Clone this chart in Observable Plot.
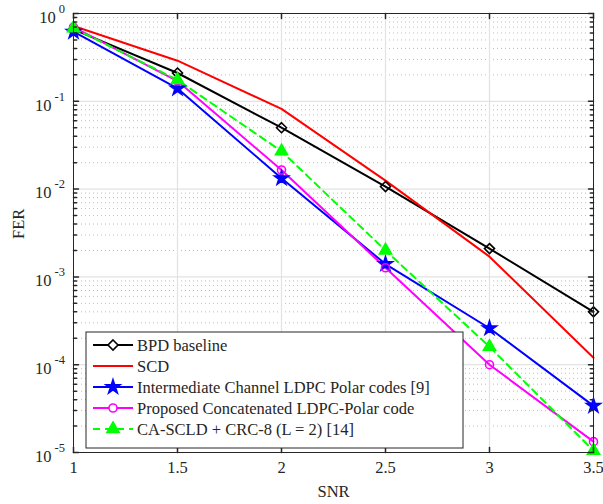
<!DOCTYPE html>
<html><head><meta charset="utf-8">
<script src="https://cdn.jsdelivr.net/npm/d3@7"></script>
<script src="https://cdn.jsdelivr.net/npm/@observablehq/plot@0.6"></script>
<style>
body{margin:0;background:#fff;}
#chart{position:relative;width:603px;height:504px;}
#chart svg, #chart svg text{font-family:'Liberation Serif','Times New Roman',Times,serif;}
</style>
</head><body><div id="chart"></div>
<script>
// ---- data ----
const snr = [1, 1.5, 2, 2.5, 3, 3.5];
const bpdBaseline = [0.66, 0.21, 0.050, 0.0107, 0.0021, 4.0e-4];
const scd = [0.72, 0.29, 0.082, 0.0125, 0.0017, 1.2e-4];
const intermediateLdpcPolar = [0.62, 0.14, 0.0133, 0.0014, 2.6e-4, 3.4e-5];
const proposedConcatenated = [0.70, 0.17, 0.0165, 1.27e-3, 1.0e-4, 1.33e-5];
const caScld = [0.68, 0.175, 0.027, 0.0020, 1.6e-4, 1.05e-5];

const seriesNames = [
  "BPD baseline",
  "SCD",
  "Intermediate Channel LDPC Polar codes [9]",
  "Proposed Concatenated LDPC-Polar code",
  "CA-SCLD + CRC-8 (L = 2) [14]"
];
const seriesValues = [bpdBaseline, scd, intermediateLdpcPolar, proposedConcatenated, caScld];
const seriesColors = ["#000000", "#ff0000", "#0000ff", "#ff00ff", "#00ff00"];
const seriesSymbols = ["diamond2", null, "star", "circle", "triangle"];
const seriesFilled = [false, false, true, false, true];
const seriesDash = [null, null, null, null, "7,5"];

const xTicks = [1, 1.5, 2, 2.5, 3, 3.5];
const yMajor = [1e-5, 1e-4, 1e-3, 1e-2, 1e-1, 1];
const minorMultipliers = [2, 3, 4, 5, 6, 7, 8, 9];
const yMinor = yMajor.slice(0, -1).flatMap(p => minorMultipliers.map(m => m * p));

const markerR = {diamond2: 4.5, star: 4.4, circle: 4, triangle: 4.5};

// ---- build table ----
const rows = [];
seriesNames.forEach((name, i) => {
  snr.forEach((s, j) => rows.push({series: name, idx: i, snr: s, fer: seriesValues[i][j]}));
});

const font = "'Liberation Serif', 'Times New Roman', Times, serif";
const fs = 16.5;
const axisColor = "#262626";
const tickShape = {draw(context, l) { context.moveTo(0, 0); context.lineTo(0, -l); }};

const lineMarks = seriesNames.map((name, i) =>
  Plot.line(rows.filter(r => r.idx === i), {
    x: "snr", y: "fer", stroke: seriesColors[i], strokeWidth: 2,
    strokeDasharray: seriesDash[i] || undefined
  })
);
const dotMarks = seriesNames.map((name, i) => seriesSymbols[i] ? Plot.dot(rows.filter(r => r.idx === i), {
    x: "snr", y: "fer", symbol: seriesSymbols[i], r: markerR[seriesSymbols[i]],
    stroke: seriesColors[i], strokeWidth: 1.6,
    fill: seriesFilled[i] ? seriesColors[i] : "none"
  }) : null).filter(Boolean);

const chart = Plot.plot({
  width: 603, height: 504,
  marginLeft: 73, marginRight: 10, marginTop: 13, marginBottom: 52,
  style: {fontFamily: font, fontSize: fs + "px", background: "#fff", overflow: "visible"},
  x: {domain: [1, 3.5]},
  y: {type: "log", domain: [1e-5, 1]},
  marks: [
    Plot.ruleY(yMinor, {stroke: "#bdbdbd", strokeDasharray: "1,3"}),
    Plot.ruleY(yMajor.slice(1, -1), {stroke: "#e2e2e2", strokeWidth: 1.2}),
    Plot.ruleX(xTicks.slice(1, -1), {stroke: "#e2e2e2", strokeWidth: 1.2}),
    ...lineMarks,
    ...dotMarks,
    Plot.frame({stroke: axisColor, strokeWidth: 1}),
    // inward ticks (MATLAB box style)
    Plot.vector(yMajor, {x: 1, y: d => d, length: 5, rotate: 90, anchor: "start", shape: tickShape, stroke: axisColor}),
    Plot.vector(yMajor, {x: 3.5, y: d => d, length: 5, rotate: -90, anchor: "start", shape: tickShape, stroke: axisColor}),
    Plot.vector(yMinor, {x: 1, y: d => d, length: 3, rotate: 90, anchor: "start", shape: tickShape, stroke: axisColor}),
    Plot.vector(yMinor, {x: 3.5, y: d => d, length: 3, rotate: -90, anchor: "start", shape: tickShape, stroke: axisColor}),
    Plot.vector(xTicks, {x: d => d, y: 1e-5, length: 5, rotate: 0, anchor: "start", shape: tickShape, stroke: axisColor}),
    Plot.vector(xTicks, {x: d => d, y: 1, length: 5, rotate: 180, anchor: "start", shape: tickShape, stroke: axisColor}),
    Plot.axisX({ticks: xTicks, tickSize: 0, tickPadding: 9, tickFormat: d => String(d), label: null, fill: "#262626"}),
    Plot.axisY({ticks: yMajor, tickSize: 0, tickPadding: 8.5, dy: 4,
      tickFormat: d => `10^${Math.round(Math.log10(d))}`, label: null, fill: "#262626"}),
    Plot.text(["SNR"], {frameAnchor: "bottom", text: d => d, dy: 44, fontSize: fs, fill: "#262626"}),
    Plot.text(["FER"], {frameAnchor: "left", text: d => d, dx: -55, dy: 6, rotate: -90, fontSize: fs, fill: "#262626"})
  ]
});

document.getElementById("chart").appendChild(chart);

// superscript exponents on y tick labels
const svg = d3.select(chart.tagName.toLowerCase() === "svg" ? chart : chart.querySelector("svg"));
svg.selectAll('g[aria-label="y-axis tick label"] text').each(function() {
  const t = d3.select(this);
  const m = t.text().match(/^10\^(-?\d+)$/);
  if (!m) return;
  t.text(null);
  t.append("tspan").text("10");
  t.append("tspan").attr("dx", "3").attr("dy", "-10").attr("font-size", "12.5px").text(m[1]);
});

// legend (inside plot area, lower left)
const lg = svg.append("g").attr("font-family", font).attr("font-size", fs).attr("text-anchor", "start");
const boxX = 86, boxY = 332, boxW = 377, boxH = 116, rowH = 21;
lg.append("rect").attr("x", boxX).attr("y", boxY).attr("width", boxW).attr("height", boxH)
  .attr("fill", "#fff").attr("stroke", axisColor).attr("stroke-width", 1);
const d3Sym = {diamond2: d3.symbolDiamond2, star: d3.symbolStar, circle: d3.symbolCircle, triangle: d3.symbolTriangle};
seriesNames.forEach((name, i) => {
  const cy = boxY + 13 + i * rowH;
  lg.append("line").attr("x1", boxX + 7).attr("x2", boxX + 47).attr("y1", cy).attr("y2", cy)
    .attr("stroke", seriesColors[i]).attr("stroke-width", 2)
    .attr("stroke-dasharray", seriesDash[i]);
  if (seriesSymbols[i]) {
    const r = markerR[seriesSymbols[i]];
    lg.append("path").attr("transform", `translate(${boxX + 27},${cy})`)
      .attr("d", d3.symbol().type(d3Sym[seriesSymbols[i]]).size(Math.PI * r * r)())
      .attr("stroke", seriesColors[i]).attr("stroke-width", 1.6)
      .attr("fill", seriesFilled[i] ? seriesColors[i] : "#fff");
  }
  lg.append("text").attr("x", boxX + 51).attr("y", cy).attr("dy", "0.34em")
    .attr("text-anchor", "start").attr("fill", "#262626").text(name);
});
</script>
</body></html>
